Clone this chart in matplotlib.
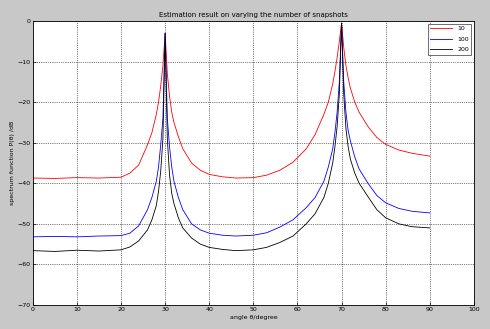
import matplotlib
matplotlib.use('Agg')
import matplotlib.pyplot as plt

# angle axis (degree) shared by the three curves
angle = [0, 5, 10, 15, 20, 22, 24, 26, 27, 28, 28.5, 29, 29.5, 30, 30.5, 31, 31.5, 32, 33, 34,
         36, 38, 40, 43, 46, 50, 53, 56, 59, 62, 64, 66, 67, 68, 68.5, 69, 69.5, 70, 70.5, 71,
         71.5, 72, 73, 74, 76, 78, 80, 83, 86, 90]

# spectrum (dB) for 10, 100, 200 snapshots
p10 = [-38.7, -38.8, -38.6, -38.7, -38.5, -37.5, -35.5, -30.5, -27.5, -23.0, -20.0, -16.0, -11.0, -3.0,
       -13.0, -18.5, -22.5, -25.0, -28.5, -31.5, -35.0, -36.8, -37.8, -38.4, -38.7, -38.6, -38.0, -36.8,
       -34.8, -31.5, -28.0, -23.0, -20.0, -15.5, -12.5, -9.0, -5.0, -0.5, -6.5, -11.0, -14.0, -16.5,
       -20.0, -22.5, -26.0, -28.7, -30.4, -31.8, -32.6, -33.3]
p100 = [-53.2, -53.1, -53.2, -53.0, -52.9, -52.3, -50.5, -46.5, -43.5, -39.5, -36.0, -30.5, -24.0, -3.0,
        -24.0, -31.0, -36.0, -39.5, -43.5, -46.5, -50.0, -51.5, -52.3, -52.8, -53.0, -52.8, -52.2, -50.8,
        -49.0, -46.0, -43.5, -39.5, -36.0, -31.5, -27.5, -22.5, -15.0, -0.5, -15.0, -22.5, -27.0, -29.5,
        -33.5, -36.5, -40.0, -43.0, -44.8, -46.2, -46.9, -47.3]
p200 = [-56.6, -56.8, -56.5, -56.7, -56.4, -55.7, -54.2, -51.5, -49.0, -45.5, -42.0, -37.0, -29.0, -3.0,
        -29.0, -38.0, -42.5, -45.0, -48.5, -51.0, -53.5, -55.0, -55.8, -56.3, -56.6, -56.4, -55.8, -54.6,
        -53.0, -50.0, -47.5, -43.5, -40.0, -35.0, -31.0, -26.0, -18.0, -0.5, -18.0, -26.5, -31.0, -34.0,
        -37.5, -40.0, -43.3, -46.5, -48.5, -50.0, -50.7, -51.0]

fig = plt.figure(figsize=(4.9, 3.29), dpi=100, facecolor='#c8c8c8')
ax = fig.add_axes([0.067, 0.073, 0.9, 0.863])

ax.plot(angle, p10, color='red', lw=0.6, label='10')
ax.plot(angle, p100, color='blue', lw=0.6, label='100')
ax.plot(angle, p200, color='black', lw=0.6, label='200')

ax.set_xlim(0, 100)
ax.set_ylim(-70, 0)
ax.set_xticks(range(0, 101, 10))
ax.set_yticks(range(-70, 1, 10))
ax.tick_params(direction='in', labelsize=4.5, length=2, width=0.5, pad=1.5)
ax.grid(True, color='black', linestyle=':', linewidth=0.5)
for s in ax.spines.values():
    s.set_linewidth(0.6)

ax.set_title('Estimation result on varying the number of snapshots', fontsize=5, pad=3)
ax.set_xlabel('angle θ/degree', fontsize=4.5, labelpad=2)
ax.set_ylabel('spectrum function P(θ) /dB', fontsize=4.5, labelpad=2)

leg = ax.legend(loc='upper right', fontsize=4.5, frameon=True, fancybox=False,
                edgecolor='black', handlelength=3.5, borderaxespad=0.4, labelspacing=0.8)
leg.get_frame().set_linewidth(0.5)

fig.savefig('out.png', dpi=100, facecolor=fig.get_facecolor())
